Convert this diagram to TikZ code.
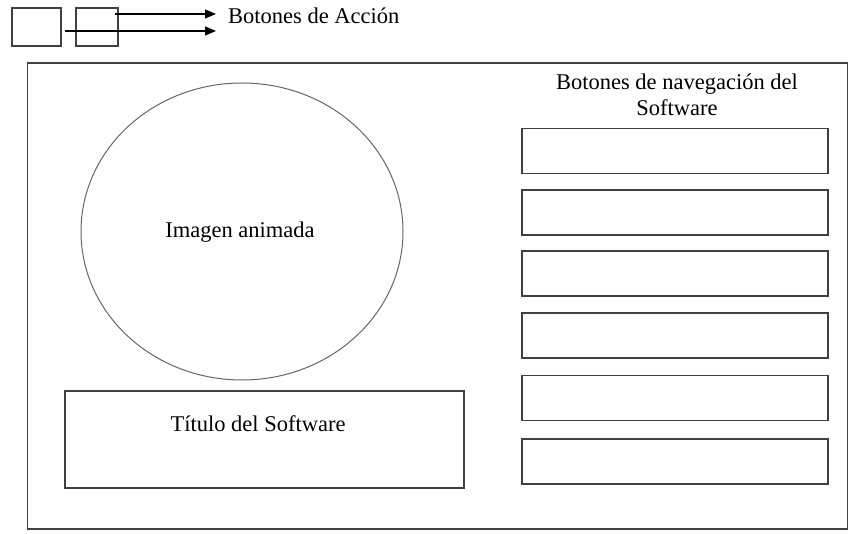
\documentclass[tikz,border=0pt]{standalone}
\usepackage{fontspec}
\setmainfont{Liberation Serif}
\usetikzlibrary{arrows.meta,shapes.geometric}
\begin{document}
\begin{tikzpicture}[x=1pt,y=-1pt,
  frame/.style={draw=black!75,line width=1.3pt},
  boxline/.style={draw=black!75,line width=1.4pt},
  ring/.style={draw=black!60,line width=1pt},
  arr/.style={draw=black,line width=1.2pt,-{Triangle[length=11pt,width=9pt]}},
  lbl/.style={font=\fontsize{22.5}{26}\selectfont,align=center,inner sep=0pt}]
\useasboundingbox (0,0) rectangle (851,534);
\fill[white] (0,0) rectangle (851,534);

% action buttons
\node[boxline,minimum width=49pt,minimum height=38pt,inner sep=0pt] (b1) at (36.5,27) {};
\node[boxline,minimum width=42pt,minimum height=38pt,inner sep=0pt] (b2) at (97,27) {};
\node[lbl,anchor=west] (accion) at (228,16) {Botones de Acción};
\coordinate (s1) at (115,14);
\coordinate (s2) at (65,31);
\coordinate (t1) at (216,14);
\coordinate (t2) at (216,31);
\draw[arr] (s1) -- (t1);
\draw[arr] (s2) -- (t2);

% main screen
\node[frame,minimum width=820pt,minimum height=466pt,inner sep=0pt] (screen) at (437.5,296) {};

% animated image
\node[ring,ellipse,minimum width=322pt,minimum height=297pt,inner sep=0pt] (anim) at (242,231.5) {};
\node[lbl] (animtxt) at (240,232) {Imagen animada};

% software title
\node[boxline,minimum width=399pt,minimum height=97pt,inner sep=0pt] (title) at (264.5,439.5) {};
\node[lbl] (titletxt) at (258,424) {Título del Software};

% navigation buttons
\node[lbl] (navtxt) at (677,95) {Botones de navegación del\\Software};
\foreach \i/\y in {1/151,2/212.5,3/273.5,4/335.5,5/398,6/461.5}{
  \node[boxline,minimum width=306pt,minimum height=45pt,inner sep=0pt] (nav\i) at (675,\y) {};
}
\end{tikzpicture}
\end{document}
